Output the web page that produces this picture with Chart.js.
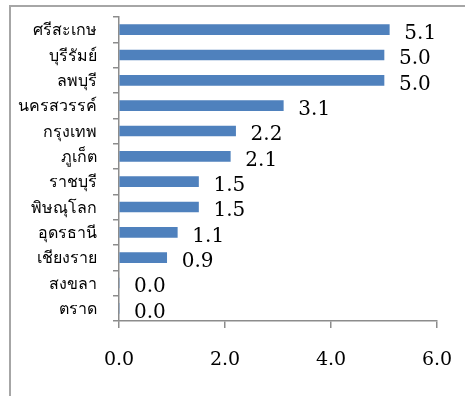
<!DOCTYPE html>
<html>
<head>
<meta charset="utf-8">
<script src="https://cdn.jsdelivr.net/npm/chart.js@4"></script>
<style>
  html, body { margin: 0; padding: 0; background: #fff; }
  #wrap { position: relative; width: 465px; height: 396px; overflow: hidden; }
  #frame { position: absolute; left: 9px; top: 5px; width: 470px; height: 400px;
           border-left: 2px solid #a6a6a6; border-top: 2px solid #a6a6a6; box-sizing: border-box; }
  canvas { position: absolute; left: 0; top: 0; }
</style>
</head>
<body>
<div id="wrap">
  <div id="frame"></div>
  <canvas id="barChart" width="465" height="396"></canvas>
</div>
<script>
// provinces, top to bottom as in the picture
const categories = ['ศรีสะเกษ', 'บุรีรัมย์', 'ลพบุรี', 'นครสวรรค์', 'กรุงเทพ', 'ภูเก็ต',
                    'ราชบุรี', 'พิษณุโลก', 'อุดรธานี', 'เชียงราย', 'สงขลา', 'ตราด'];
const values = [5.1, 5.0, 5.0, 3.1, 2.2, 2.1, 1.5, 1.5, 1.1, 0.9, 0.0, 0.0];
const xTicks = [0, 2, 4, 6];

const axisColor = '#8c8c8c';
const serifFont = "'DejaVu Serif', 'Liberation Serif', serif";
const thaiFont = "16px 'Noto Sans', 'DejaVu Sans', sans-serif";

const ctx = document.getElementById('barChart').getContext('2d');

// keep the plot box where the picture has it, whatever the label sizes
function noOverflow(axis) {
    axis.paddingLeft = 0;
    axis.paddingRight = 0;
    axis.paddingTop = 0;
    axis.paddingBottom = 0;
}

new Chart(ctx, {
    type: 'bar',
    data: {
        labels: categories,
        datasets: [{
            data: values,
            backgroundColor: '#4f81bd',
            barThickness: 10
        }]
    },
    options: {
        indexAxis: 'y',
        responsive: false,
        animation: false,
        layout: { padding: { top: 17, right: 28, left: 0, bottom: 0 } },
        plugins: {
            legend: { display: false },
            tooltip: { enabled: false }
        },
        scales: {
            x: {
                min: 0,
                max: 6,
                afterBuildTicks: function (axis) {
                    axis.ticks = xTicks.map(v => ({ value: v }));
                },
                afterFit: function (axis) { axis.height = 75; noOverflow(axis); },
                border: { color: axisColor, width: 1.5 },
                grid: { drawOnChartArea: false, tickLength: 7, color: axisColor, lineWidth: 1.5 },
                ticks: {
                    color: '#000',
                    padding: 21,
                    maxRotation: 0,
                    font: { family: serifFont, size: 19 },
                    callback: function (value) { return value.toFixed(1); }
                }
            },
            y: {
                offset: true,
                afterFit: function (axis) { axis.width = 119; noOverflow(axis); },
                border: { color: axisColor, width: 1.5 },
                grid: { offset: true, drawOnChartArea: false, tickLength: 6, color: axisColor, lineWidth: 1.5 },
                // the labels are drawn by the plugin below, a bit further from the axis
                ticks: { display: false }
            }
        }
    },
    plugins: [{
        afterDatasetsDraw: function (chart) {
            const c = chart.ctx;
            const meta = chart.getDatasetMeta(0);
            const yScale = chart.scales.y;
            c.save();
            c.fillStyle = '#000';

            // category names, right aligned left of the axis
            c.textAlign = 'right';
            c.textBaseline = 'middle';
            c.font = thaiFont;
            categories.forEach(function (name, i) {
                c.fillText(name, yScale.right - 22, yScale.getPixelForValue(i) + 1);
            });

            // value labels past the bar ends
            c.textAlign = 'left';
            c.font = '20px ' + serifFont;
            meta.data.forEach(function (bar, i) {
                c.fillText(values[i].toFixed(1), bar.x + 15, bar.y + 4);
            });
            c.restore();
        }
    }]
});
</script>
</body>
</html>
